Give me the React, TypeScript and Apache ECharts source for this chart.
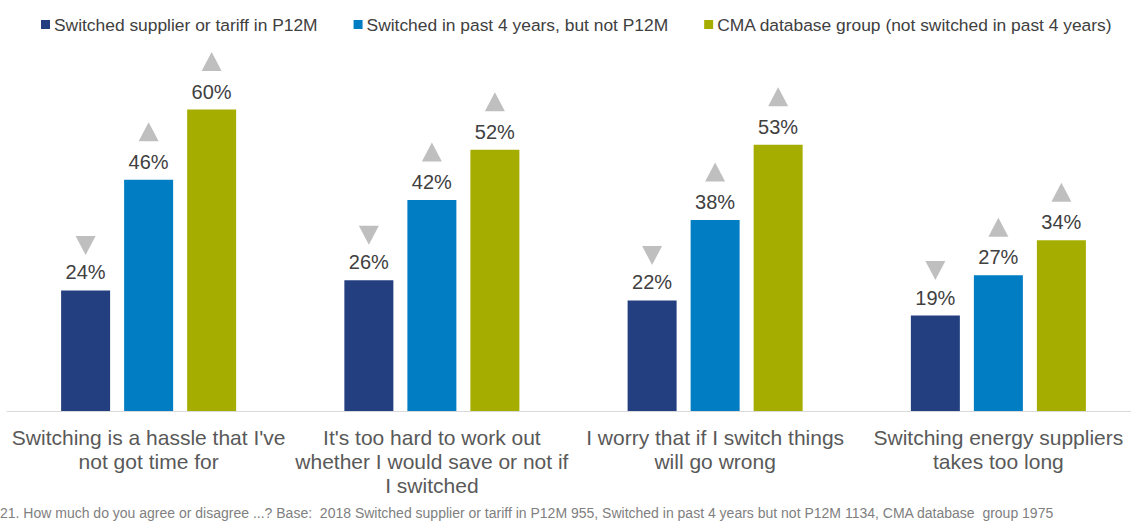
import React, { useEffect, useRef } from "react";
import * as echarts from "echarts";

const categories = [
  "Switching is a hassle that I've\nnot got time for",
  "It's too hard to work out\nwhether I would save or not if\nI switched",
  "I worry that if I switch things\nwill go wrong",
  "Switching energy suppliers\ntakes too long",
];
const seriesNames = [
  "Switched supplier or tariff in P12M",
  "Switched in past 4 years, but not P12M",
  "CMA database group (not switched in past 4 years)",
];
const switchedP12M = [24, 26, 22, 19];
const switchedPast4 = [46, 42, 38, 27];
const cmaGroup = [60, 52, 53, 34];
// significance direction per series: "down" or "up"
const sigDirections = ["down", "up", "up"];
const footnote =
  "21. How much do you agree or disagree ...? Base:  2018 Switched supplier or tariff in P12M 955, Switched in past 4 years but not P12M 1134, CMA database  group 1975";

const colors = ["#243F80", "#007DC3", "#A5AE00"];
const FONT = "'Liberation Sans', Arial, sans-serif";

export default function App() {
  const ref = useRef<HTMLDivElement>(null);
  useEffect(() => {
    if (!ref.current) return;
    const chart = echarts.init(ref.current, null, { renderer: "svg" });
    const values = [switchedP12M, switchedPast4, cmaGroup];
    const series = values.map((vals, si) => ({
      name: seriesNames[si],
      type: "bar",
      data: vals,
      barWidth: 49,
      barGap: "28.6%",
      itemStyle: { color: colors[si] },
      label: {
        show: true,
        position: "top",
        distance: 8,
        formatter: "{c}%",
        fontSize: 20,
        fontFamily: FONT,
        color: "#404040",
      },
      markPoint: {
        symbol: "triangle",
        symbolSize: [20, 19],
        symbolRotate: sigDirections[si] === "down" ? 180 : 0,
        symbolOffset: [0, sigDirections[si] === "down" ? -45 : -48],
        itemStyle: { color: "#BFBFBF" },
        label: { show: false },
        silent: true,
        data: vals.map((v, i) => ({ coord: [i, v] })),
      },
    }));
    chart.setOption({
      animation: false,
      textStyle: { fontFamily: FONT },
      legend: {
        left: 36,
        top: 11,
        icon: "rect",
        itemWidth: 9,
        itemHeight: 9,
        itemGap: 36,
        textStyle: { fontSize: 17.4, color: "#404040", fontFamily: FONT, padding: [0, 0, 0, -1] },
        data: seriesNames,
      },
      grid: {
        left: 7,
        right: -9,
        top: 9,
        bottom: 110,
        containLabel: false,
        outerBoundsMode: "none",
      },
      xAxis: {
        type: "category",
        data: categories,
        axisLine: { show: true, lineStyle: { color: "#D9D9D9", width: 1 } },
        axisTick: { show: false },
        axisLabel: {
          interval: 0,
          fontSize: 21,
          lineHeight: 24,
          color: "#595959",
          fontFamily: FONT,
          margin: 14,
        },
      },
      yAxis: {
        type: "value",
        min: 0,
        max: 80,
        show: false,
        splitLine: { show: false },
      },
      graphic: [
        {
          type: "text",
          left: 0,
          top: 506,
          style: {
            text: footnote,
            fontSize: 14,
            fill: "#808080",
            fontFamily: "'Liberation Sans Narrow', 'Arial Narrow', sans-serif",
          },
        },
      ],
      series,
    });
    return () => chart.dispose();
  }, []);
  return (
    <div
      ref={ref}
      style={{ position: "absolute", left: 0, top: 0, width: 1131, height: 521, background: "#fff" }}
    />
  );
}
